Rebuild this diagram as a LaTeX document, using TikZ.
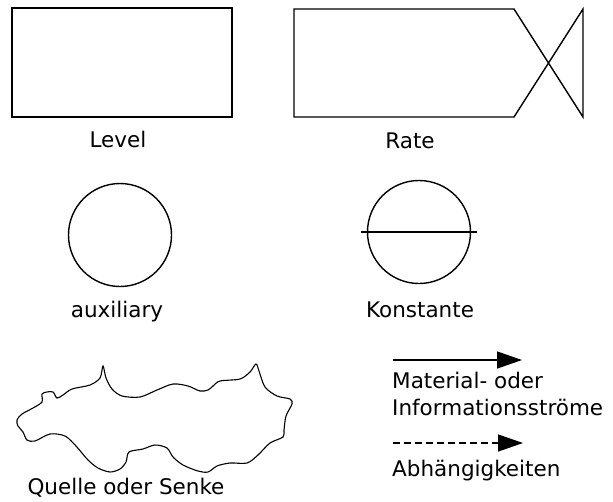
\documentclass[tikz,border=0pt]{standalone}
\usepackage{fontspec}
\setmainfont{DejaVu Sans}
\usetikzlibrary{arrows.meta}
\begin{document}
\begin{tikzpicture}[x=1pt,y=-1pt,
  symb/.style={line width=1.4pt, line join=miter},
  lbl/.style={font=\fontsize{21.5}{25}\selectfont, inner sep=0pt},
  flow/.style={line width=1.3pt, -{Triangle[length=25pt,width=17pt]}},
  dep/.style={line width=1.3pt, dash pattern=on 6.5pt off 4.5pt, -{Triangle[length=25pt,width=17pt]}}]
\useasboundingbox (0,0) rectangle (613,501);
% Level
\draw[symb] (12,8) rectangle (232,117);
\node[lbl, anchor=base] (level) at (118,147) {Level};
% Rate
\draw[symb] (294,9) -- (514,9) -- (583,117) -- (583,9) -- (514,117) -- (294,117) -- cycle;
\node[lbl, anchor=base] (rate) at (410,148) {Rate};
% auxiliary
\draw[symb] (120,235) circle (51.5);
\node[lbl, anchor=base] (aux) at (117,317) {auxiliary};
% Konstante
\draw[symb] (419,232) circle (51.5);
\draw[symb] (361,232) -- (477,232);
\node[lbl, anchor=base] (konst) at (420,317) {Konstante};
% Quelle oder Senke
\draw[line width=1.1pt] plot[smooth cycle, tension=0.5] coordinates {
 (17,420) (22,414) (33,408) (42,402) (42,394) (47,392) (53,392) (57,398) (63,395) (72,389)
 (90,385) (100,378) (103,366) (106,378) (112,389) (122,396) (140,397) (157,390) (173,384)
 (188,386) (200,391) (208,390) (213,386) (220,381) (240,379) (250,372) (256,364) (259,371)
 (265,387) (277,396) (290,399) (292,404) (286,416) (284,430) (283,437) (270,443) (258,455)
 (247,463) (230,463) (217,466) (208,472) (198,471) (183,465) (173,457) (167,448) (155,445)
 (143,449) (129,452) (126,462) (120,469) (110,472) (98,468) (88,460) (76,446) (65,436)
 (50,434) (35,441) (27,440) (23,432) (18,426)};
\node[lbl, anchor=base] (quelle) at (126,494) {Quelle oder Senke};
% Legend arrows
\coordinate (m1) at (393,360);
\coordinate (m2) at (522,360);
\draw[flow] (m1) -- (m2);
\node[lbl, anchor=base west] (mat1) at (392,388) {Material- oder};
\node[lbl, anchor=base west] (mat2) at (392,415) {Informationsströme};
\coordinate (d1) at (393,443);
\coordinate (d2) at (523,443);
\draw[dep] (d1) -- (d2);
\node[lbl, anchor=base west] (abh) at (392,476) {Abhängigkeiten};
\end{tikzpicture}
\end{document}
